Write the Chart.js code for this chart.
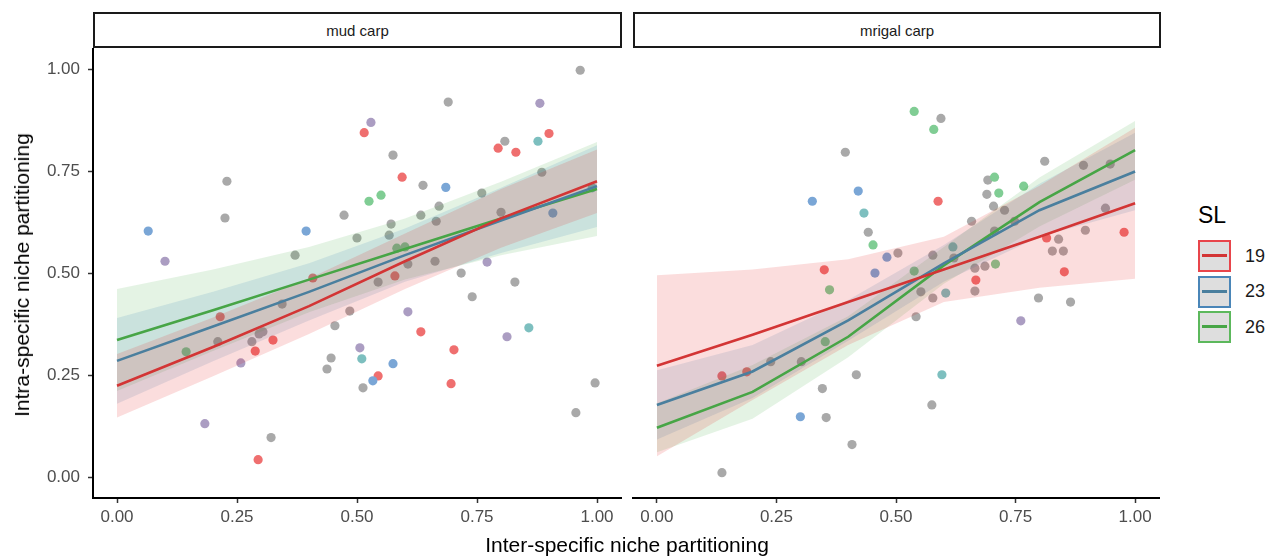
<!DOCTYPE html>
<html>
<head>
<meta charset="utf-8">
<script src="https://cdn.jsdelivr.net/npm/chart.js@4.4.1/dist/chart.umd.min.js"></script>
<style>
  html, body { margin:0; padding:0; background:#fff; }
  body { width:1279px; height:558px; position:relative; overflow:hidden; font-family:"Liberation Sans", Arial, sans-serif; }
  .cv { position:absolute; }
  .strip { position:absolute; top:12px; height:36px; border:2px solid #1a1a1a; box-sizing:border-box; background:#fff;
           font-size:15px; color:#1a1a1a; display:flex; align-items:center; justify-content:center; }
  .title { position:absolute; font-size:21px; color:#000; white-space:nowrap; }
  .key { position:absolute; left:1198px; width:33px; height:32px; box-sizing:border-box; border:2px solid; background:#dedede; }
  .key span { position:absolute; left:2px; right:2px; top:12px; height:3px; }
  .klab { position:absolute; left:1245px; font-size:18px; color:#1a1a1a; }
</style>
</head>
<body>
<div class="cv" style="left:0;top:0;width:622px;height:558px;"><canvas id="c1"></canvas></div>
<div class="cv" style="left:622px;top:0;width:538px;height:558px;"><canvas id="c2"></canvas></div>

<div class="strip" style="left:93px;width:529px;">mud carp</div>
<div class="strip" style="left:633px;width:528px;">mrigal carp</div>

<div class="title" style="left:627px;top:545px;transform:translate(-50%,-50%);">Inter-specific niche partitioning</div>
<div class="title" style="left:22px;top:275px;transform:translate(-50%,-50%) rotate(-90deg);">Intra-specific niche partitioning</div>

<div class="title" style="left:1198px;top:202px;font-size:23px;">SL</div>
<div class="key" style="top:240px;border-color:#e8454b;"><span style="background:#d33535;"></span></div>
<div class="key" style="top:276px;border-color:#4a86b8;"><span style="background:#4a7f9e;"></span></div>
<div class="key" style="top:311px;border-color:#5cb85c;"><span style="background:#47a546;"></span></div>
<div class="klab" style="top:246px;">19</div>
<div class="klab" style="top:281px;">23</div>
<div class="klab" style="top:317px;">26</div>

<script>
// ---------- data ----------
const seriesLabels = ["19", "23", "26"];
const tickVals = [0, 0.25, 0.5, 0.75, 1.0];
const fitX = [0, 0.2, 0.4, 0.6, 0.8, 1.0];

// point colour groups: 0 gray, 1 purple, 2 red, 3 blue, 4 teal, 5 green
const groupColors = ["#a9a9a9", "#ab9dc2", "#ef6f6f", "#7aa6d6", "#7dbfbf", "#80cd94"];

// mud carp points
const mudX = [0.065,0.10,0.229,0.225,0.394,0.371,0.473,0.50,0.408,0.965,0.69,0.881,0.529,0.515,0.90,0.808,0.794,0.877,0.831,0.575,
              0.594,0.885,0.6375,0.685,0.55,0.525,0.76,0.671,0.633,0.665,0.571,0.80,0.908,0.567,0.583,0.60,0.606,0.6625,0.771,0.544,
              0.579,0.717,0.829,0.74,0.144,0.215,0.21,0.258,0.288,0.281,0.296,0.304,0.325,0.344,0.454,0.485,0.446,0.4375,0.183,0.321,
              0.294,0.606,0.633,0.702,0.8125,0.858,0.506,0.51,0.575,0.544,0.533,0.5125,0.696,0.996,0.956,0.99];
const mudY = [0.604,0.53,0.726,0.636,0.604,0.545,0.643,0.587,0.489,0.998,0.92,0.917,0.87,0.845,0.843,0.824,0.807,0.824,0.797,0.79,
              0.736,0.748,0.716,0.711,0.692,0.677,0.697,0.665,0.643,0.628,0.621,0.65,0.648,0.594,0.562,0.565,0.523,0.53,0.528,0.479,
              0.494,0.501,0.479,0.443,0.308,0.394,0.333,0.281,0.31,0.333,0.352,0.357,0.337,0.425,0.372,0.408,0.293,0.266,0.132,0.098,
              0.044,0.406,0.357,0.313,0.345,0.367,0.318,0.291,0.279,0.249,0.237,0.22,0.23,0.232,0.159,0.71];
const mudG = [3,1,0,0,3,0,0,0,2,0,0,1,1,2,2,0,2,4,2,0,
              2,0,0,3,5,5,0,0,0,0,0,0,3,0,5,5,0,0,1,0,
              2,0,0,0,5,2,0,1,2,0,0,0,2,0,0,0,0,0,1,0,
              2,1,2,2,1,4,1,4,3,2,3,0,2,0,0,4];

// mrigal carp points
const mrX = [0.394,0.325,0.421,0.433,0.442,0.452,0.481,0.504,0.456,0.35,0.361,0.538,0.594,0.579,0.811,0.892,0.948,0.692,0.706,0.767,
             0.69,0.715,0.588,0.704,0.727,0.658,0.748,0.938,0.706,0.896,0.977,0.815,0.84,0.827,0.85,0.619,0.577,0.621,0.538,0.665,
             0.686,0.708,0.852,0.667,0.665,0.552,0.577,0.604,0.352,0.302,0.238,0.188,0.136,0.417,0.346,0.30,0.354,0.408,0.136,0.542,
             0.798,0.865,0.761,0.596,0.575];
const mrY = [0.797,0.677,0.702,0.648,0.601,0.57,0.54,0.55,0.501,0.509,0.46,0.897,0.88,0.853,0.775,0.765,0.768,0.729,0.736,0.714,
             0.694,0.697,0.677,0.665,0.655,0.628,0.628,0.66,0.604,0.606,0.601,0.587,0.584,0.555,0.555,0.565,0.545,0.538,0.506,0.513,
             0.518,0.523,0.504,0.484,0.457,0.455,0.44,0.452,0.333,0.284,0.284,0.259,0.249,0.252,0.218,0.149,0.147,0.081,0.012,0.394,
             0.44,0.43,0.384,0.252,0.178];
const mrG = [0,3,3,4,0,5,3,0,3,2,5,5,0,5,0,0,0,0,5,5,
             0,5,2,0,0,0,0,0,0,0,2,2,0,0,0,4,0,0,5,0,
             0,5,2,2,0,0,0,4,5,0,0,2,2,0,0,3,0,0,0,0,
             0,0,1,4,0];

// smooth fits (value) and half-width of the confidence band
const mudFitR = [0.225, 0.32, 0.42, 0.53, 0.635, 0.726];
const mudFitB = [0.286, 0.37, 0.455, 0.545, 0.63, 0.714];
const mudFitG = [0.337, 0.41, 0.485, 0.56, 0.635, 0.707];
const mudCiR  = [0.078, 0.072, 0.068, 0.068, 0.072, 0.078];
const mudCiB  = [0.105, 0.085, 0.07, 0.065, 0.08, 0.10];
const mudCiG  = [0.125, 0.10, 0.08, 0.075, 0.09, 0.115];

const mrFitR = [0.274, 0.35, 0.43, 0.51, 0.59, 0.672];
const mrFitB = [0.178, 0.26, 0.385, 0.525, 0.655, 0.75];
const mrFitG = [0.122, 0.21, 0.345, 0.52, 0.675, 0.802];
const mrCiR  = [0.222, 0.16, 0.105, 0.08, 0.125, 0.185];
const mrCiB  = [0.085, 0.065, 0.05, 0.045, 0.065, 0.095];
const mrCiG  = [0.06, 0.066, 0.05, 0.045, 0.06, 0.072];

// ---------- styles ----------
const lineColors = ["#d33535", "#4a7f9e", "#47a546"];
const bandColors = ["rgba(228,26,28,0.15)", "rgba(55,126,184,0.15)", "rgba(77,175,74,0.15)"];

function pts(xs, ys) { return xs.map((x, i) => ({x: x, y: ys[i]})); }

function buildDatasets(px, py, pg, fits, cis) {
  const ds = [];
  fits.forEach((f, k) => {
    ds.push({ label: seriesLabels[k], data: pts(fitX, f), showLine: true, borderColor: lineColors[k],
              borderWidth: 2.6, pointRadius: 0, fill: false, tension: 0 });
  });
  fits.forEach((f, k) => {
    const lowIdx = ds.length;
    ds.push({ label: "lo" + k, data: pts(fitX, f.map((v, i) => v - cis[k][i])), showLine: true,
              borderWidth: 0, borderColor: "rgba(0,0,0,0)", pointRadius: 0, fill: false });
    ds.push({ label: "hi" + k, data: pts(fitX, f.map((v, i) => v + cis[k][i])), showLine: true,
              borderWidth: 0, borderColor: "rgba(0,0,0,0)", pointRadius: 0, fill: lowIdx,
              backgroundColor: bandColors[k] });
  });
  ds.push({ label: "obs", data: pts(px, py), showLine: false, pointRadius: 4.6, pointBorderWidth: 0,
            pointBackgroundColor: pg.map(g => groupColors[g]), pointBorderColor: "rgba(0,0,0,0)" });
  return ds;
}

Chart.defaults.font.family = '"Liberation Sans", Arial, sans-serif';
Chart.defaults.animation = false;

function makeChart(id, datasets, showY, padLeft) {
  return new Chart(document.getElementById(id), {
    type: "scatter",
    data: { datasets: datasets },
    options: {
      responsive: true, maintainAspectRatio: false, animation: false,
      layout: { autoPadding: false, padding: { left: padLeft, right: 1, top: 49, bottom: 0 } },
      plugins: { legend: { display: false }, tooltip: { enabled: false } },
      scales: {
        x: {
          type: "linear", min: -0.05, max: 1.05,
          afterBuildTicks: s => { s.ticks = tickVals.map(v => ({ value: v })); },
          afterFit: s => { s.height = 60; },
          ticks: { callback: v => Number(v).toFixed(2), color: "#4d4d4d", font: { size: 17 }, padding: 4, maxRotation: 0, autoSkip: false },
          grid: { drawOnChartArea: false, drawTicks: true, tickLength: 5, tickColor: "#333", tickWidth: 1.5 },
          border: { display: true, color: "#000", width: 2 }
        },
        y: {
          type: "linear", min: -0.05, max: 1.05, display: showY,
          afterBuildTicks: s => { s.ticks = tickVals.map(v => ({ value: v })); },
          afterFit: s => { s.width = showY ? 93 : 0; },
          ticks: { callback: v => Number(v).toFixed(2), color: "#4d4d4d", font: { size: 17 }, padding: 8, autoSkip: false },
          grid: { drawOnChartArea: false, drawTicks: true, tickLength: 5, tickColor: "#333", tickWidth: 1.5 },
          border: { display: true, color: "#000", width: 2 }
        }
      }
    }
  });
}

makeChart("c1", buildDatasets(mudX, mudY, mudG, [mudFitR, mudFitB, mudFitG], [mudCiR, mudCiB, mudCiG]), true, 0);
makeChart("c2", buildDatasets(mrX, mrY, mrG, [mrFitR, mrFitB, mrFitG], [mrCiR, mrCiB, mrCiG]), false, 11);
</script>
</body>
</html>
